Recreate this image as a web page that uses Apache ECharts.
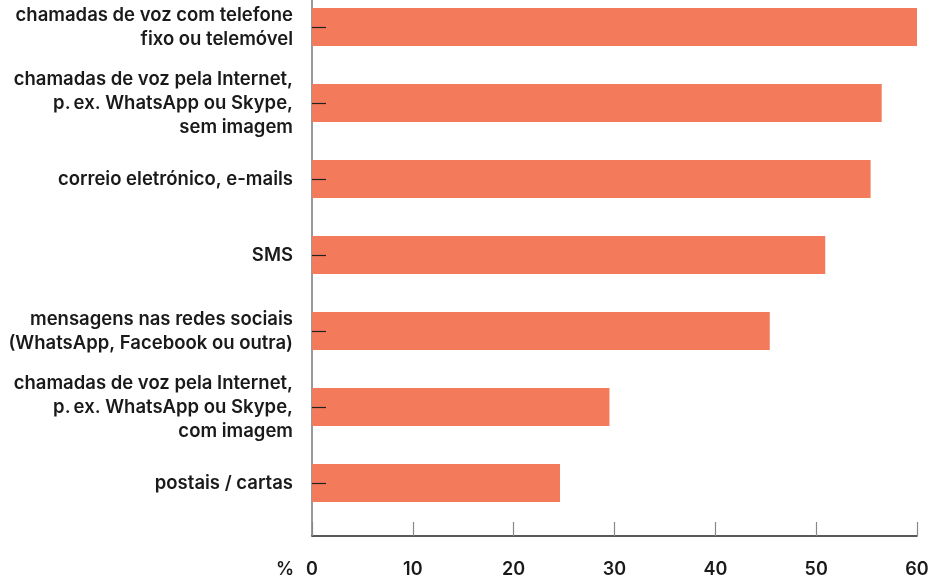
<!DOCTYPE html>
<html lang="pt">
<head>
    <meta charset="UTF-8">
    <title>Meios de comunicação</title>
    <style>
        body { margin: 0; background: #fff; }
        #chart { width: 940px; height: 579px; }
    </style>
    <script src="https://cdn.jsdelivr.net/npm/echarts@6/dist/echarts.min.js"></script>
</head>
<body>
<div id="chart"></div>
<script>
    // categories, top to bottom
    var categories = [
        'chamadas de voz com telefone\nfixo ou telemóvel',
        'chamadas de voz pela Internet,\np.\u2009ex. WhatsApp ou Skype,\nsem imagem',
        'correio eletrónico, e-mails',
        'SMS',
        'mensagens nas redes sociais\n(WhatsApp, Facebook ou outra)',
        'chamadas de voz pela Internet,\np.\u2009ex. WhatsApp ou Skype,\ncom imagem',
        'postais / cartas'
    ];
    var values = [60.1, 56.5, 55.4, 50.9, 45.4, 29.5, 24.6];
    var xTicks = [0, 10, 20, 30, 40, 50, 60];

    var font = 'Inter, "Liberation Sans", Arial, sans-serif';
    var chart = echarts.init(document.getElementById('chart'));

    chart.setOption({
        animation: false,
        textStyle: { fontFamily: font },
        title: {
            text: '%', left: 276, top: 561, padding: 0,
            textStyle: { fontSize: 18, fontWeight: 600, color: '#1a1a1a', fontFamily: font }
        },
        grid: [
            // bars: first/last category sit on the grid edges
            { left: 312, right: 23, top: 27, height: 456 },
            // visible value axis + vertical line
            { left: 312, right: 23, top: 0, bottom: 43 }
        ],
        xAxis: [
            { gridIndex: 0, type: 'value', min: xTicks[0], max: xTicks[xTicks.length - 1], show: false },
            {
                gridIndex: 1, type: 'value',
                min: xTicks[0], max: xTicks[xTicks.length - 1], interval: 10,
                axisLine: { lineStyle: { color: '#222', width: 1.5 } },
                axisTick: { inside: true, length: 14, lineStyle: { color: '#888', width: 1.2 } },
                axisLabel: { fontSize: 18, fontWeight: 600, color: '#1a1a1a', margin: 25, fontFamily: font },
                splitLine: { show: false }
            }
        ],
        yAxis: [
            {
                gridIndex: 0, type: 'category', inverse: true, data: categories,
                boundaryGap: false, z: 5,
                axisLine: { show: false },
                axisTick: { inside: true, length: 14, lineStyle: { color: '#222', width: 1.2 } },
                axisLabel: { fontSize: 18.5, fontWeight: 600, color: '#1a1a1a', margin: 19, lineHeight: 24, align: 'right', fontFamily: font }
            },
            {
                gridIndex: 1, type: 'value', min: 0, max: 1,
                axisLine: { show: true, lineStyle: { color: '#777', width: 1.5 } },
                axisTick: { show: false },
                axisLabel: { show: false },
                splitLine: { show: false }
            }
        ],
        series: [
            {
                type: 'bar',
                xAxisIndex: 0,
                yAxisIndex: 0,
                data: values,
                barWidth: 38,
                itemStyle: { color: '#f37b5c' }
            }
        ]
    });
</script>
</body>
</html>
